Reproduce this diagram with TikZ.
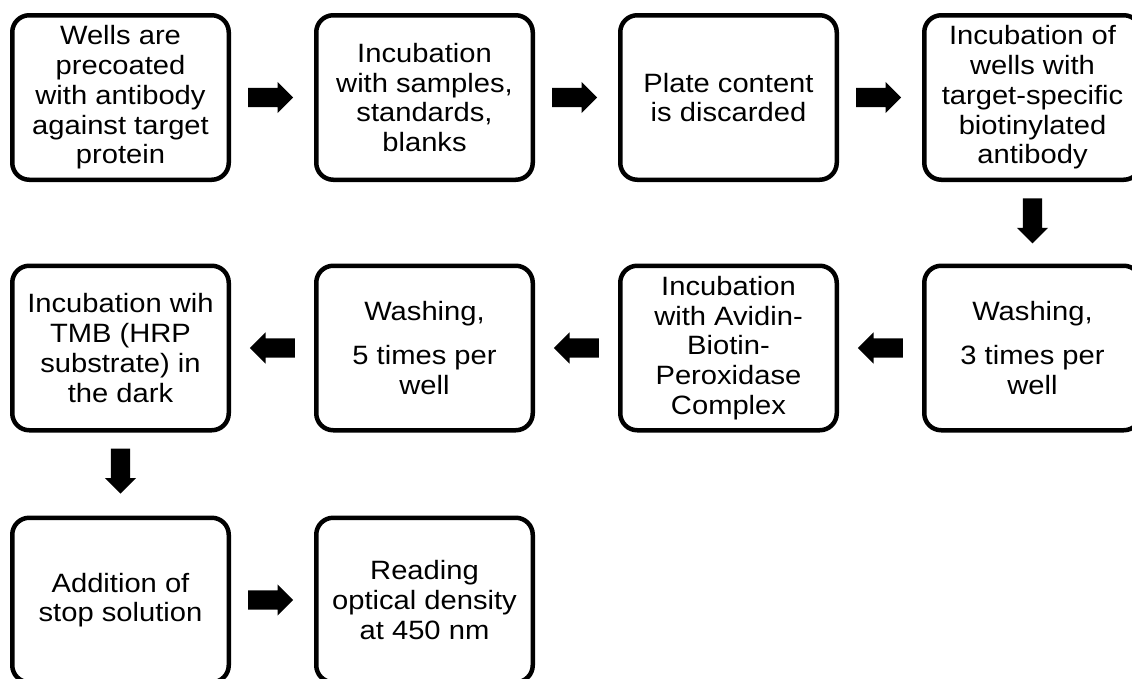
\documentclass[tikz,border=0pt]{standalone}
\usepackage{fontspec}
\setmainfont{Liberation Sans}[FakeStretch=1.1]
\usetikzlibrary{shapes.arrows,calc}
\begin{document}
\begin{tikzpicture}[x=1pt,y=-1pt,
  stepbox/.style={draw=black, line width=4.5pt, rounded corners=17pt,
    minimum width=216.5pt, minimum height=164.5pt, align=center, inner sep=0pt,
    font=\fontsize{26.5}{29.7}\selectfont},
  blockarrow/.style={single arrow, fill=black, draw=none, minimum height=45pt,
    minimum width=0pt, single arrow head extend=6pt, inner xsep=0pt, inner ysep=9.5pt,
    single arrow tip angle=90, anchor=tail},
]
\useasboundingbox (0,0) rectangle (1132,678);
\clip (0,0) rectangle (1132,678);
% row 1
\node[stepbox] (a1) at (120.5,97.5) {Wells are\\precoated\\with antibody\\against target\\protein};
\node[stepbox] (a2) at (424.5,97.5) {Incubation\\with samples,\\standards,\\blanks};
\node[stepbox] (a3) at (728.5,97.5) {Plate content\\is discarded};
\node[stepbox] (a4) at (1032.5,97.5) {Incubation of\\wells with\\target-specific\\biotinylated\\antibody};
% row 2
\node[stepbox] (b4) at (1032.5,348) {Washing,\\[14pt]3 times per\\well};
\node[stepbox] (b3) at (728.5,348) {Incubation\\with Avidin-\\Biotin-\\Peroxidase\\Complex};
\node[stepbox] (b2) at (424.5,348) {Washing,\\[14pt]5 times per\\well};
\node[stepbox] (b1) at (120.5,348) {Incubation wih\\TMB (HRP\\substrate) in\\the dark};
% row 3
\node[stepbox] (c1) at (120.5,600) {Addition of\\stop solution};
\node[stepbox] (c2) at (424.5,600) {Reading\\optical density\\at 450 nm};
% arrows
\node[blockarrow] (r1) at ($(a1.east)!0.5!(a2.west)+(-24.5,0)$) {};
\node[blockarrow] (r2) at ($(a2.east)!0.5!(a3.west)+(-24.5,0)$) {};
\node[blockarrow] (r3) at ($(a3.east)!0.5!(a4.west)+(-24.5,0)$) {};
\node[blockarrow, rotate=-90] (d1) at ($(a4.south)!0.5!(b4.north)+(0,-24.5)$) {};
\node[blockarrow, rotate=180] (l1) at ($(b4.west)!0.5!(b3.east)+(22.5,0)$) {};
\node[blockarrow, rotate=180] (l2) at ($(b3.west)!0.5!(b2.east)+(22.5,0)$) {};
\node[blockarrow, rotate=180] (l3) at ($(b2.west)!0.5!(b1.east)+(22.5,0)$) {};
\node[blockarrow, rotate=-90] (d2) at ($(b1.south)!0.5!(c1.north)+(0,-25.5)$) {};
\node[blockarrow] (r4) at ($(c1.east)!0.5!(c2.west)+(-24.5,0)$) {};
\end{tikzpicture}
\end{document}
